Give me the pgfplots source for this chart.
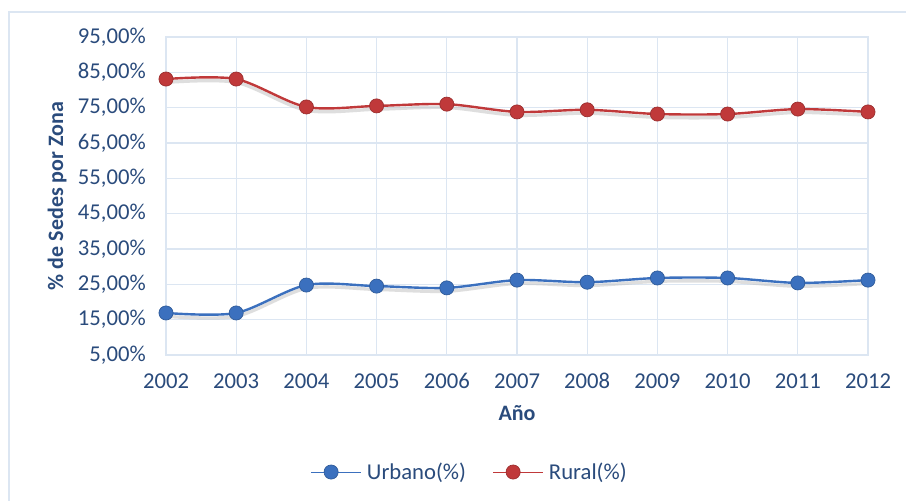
\documentclass[border=0pt]{standalone}
\usepackage{fontspec}
\setmainfont{Carlito}
\usepackage{pgfplots}
\pgfplotsset{compat=1.18}

\definecolor{txtblue}{HTML}{2A4B7C}
\definecolor{gridblue}{HTML}{DCE6F2}
\definecolor{urb}{HTML}{3B70BE}
\definecolor{rur}{HTML}{C0393A}

\begin{document}
\begin{tikzpicture}
\useasboundingbox (0,0) rectangle (679.5pt,-375pt);
\fill[white] (0,0) rectangle (679.5pt,-375pt);
\draw[gridblue, line width=1.5pt] (6.75pt,-380pt) -- (6.75pt,-9pt) -- (685pt,-9pt);

\begin{axis}[
    at={(124.5pt,-266.25pt)}, anchor=south west,
    scale only axis,
    width=526.5pt, height=238.5pt,
    xmin=2002, xmax=2012,
    ymin=5, ymax=95,
    xtick={2002,2003,...,2012},
    ytick={5,15,...,95},
    grid=major,
    grid style={gridblue, line width=0.9pt},
    axis line style={gridblue, line width=0.9pt},
    major tick length=0pt,
    /pgf/number format/assume math mode=true,
    xticklabel={\pgfmathprintnumber[set thousands separator={}]{\tick}},
    yticklabel={\pgfmathprintnumber[fixed, fixed zerofill, precision=2, use comma]{\tick}\%},
    tick label style={font=\fontsize{17}{20}\selectfont, text=txtblue},
    yticklabel style={inner sep=0pt, xshift=-15pt},
    xticklabel style={inner sep=0pt, text height=1.6ex, text depth=0pt, anchor=north, yshift=-17.5pt},
    xlabel={\textbf{Año}},
    ylabel={\textbf{\% de Sedes por Zona}},
    label style={font=\fontsize{16.5}{20}\selectfont, text=txtblue},
    xlabel style={at={(axis description cs:0.5,0)}, anchor=center, yshift=-43.5pt},
    ylabel style={at={(axis description cs:-0.155,0.5)}, anchor=center},
    legend style={at={(axis description cs:0.433,-0.368)}, anchor=center, draw=none, fill=none,
        legend columns=2, font=\fontsize{17}{20}\selectfont, text=txtblue,
        /tikz/every odd column/.append style={column sep=2pt},
        /tikz/every even column/.append style={column sep=18pt}},
    legend cell align=left,
    legend image code/.code={
        \draw[#1, mark=none, line width=0.75pt] (0pt,0pt) -- (37.5pt,0pt);
        \draw[#1, only marks] plot coordinates {(15pt,0pt)};
    },
    clip=false,
]
% shadows
\addplot[smooth, black!25, line width=2.5pt, opacity=0.5, yshift=-2.5pt, forget plot] coordinates {
    (2002,16.9) (2003,16.9) (2004,24.8) (2005,24.5) (2006,24.0) (2007,26.2)
    (2008,25.6) (2009,26.8) (2010,26.8) (2011,25.4) (2012,26.2)};
\addplot[smooth, black!25, line width=2.5pt, opacity=0.5, yshift=-2.5pt, forget plot] coordinates {
    (2002,83.1) (2003,83.1) (2004,75.2) (2005,75.5) (2006,76.0) (2007,73.8)
    (2008,74.4) (2009,73.2) (2010,73.2) (2011,74.6) (2012,73.8)};

\addplot[smooth, urb, line width=1.8pt, mark=*, mark size=5.3pt,
    mark options={fill=urb, draw=urb!80!black, line width=0.5pt}] coordinates {
    (2002,16.9) (2003,16.9) (2004,24.8) (2005,24.5) (2006,24.0) (2007,26.2)
    (2008,25.6) (2009,26.8) (2010,26.8) (2011,25.4) (2012,26.2)};
\addlegendentry{Urbano(\%)}
\addplot[smooth, rur, line width=1.8pt, mark=*, mark size=5.3pt,
    mark options={fill=rur, draw=rur!80!black, line width=0.5pt}] coordinates {
    (2002,83.1) (2003,83.1) (2004,75.2) (2005,75.5) (2006,76.0) (2007,73.8)
    (2008,74.4) (2009,73.2) (2010,73.2) (2011,74.6) (2012,73.8)};
\addlegendentry{Rural(\%)}
\end{axis}
\end{tikzpicture}
\end{document}
